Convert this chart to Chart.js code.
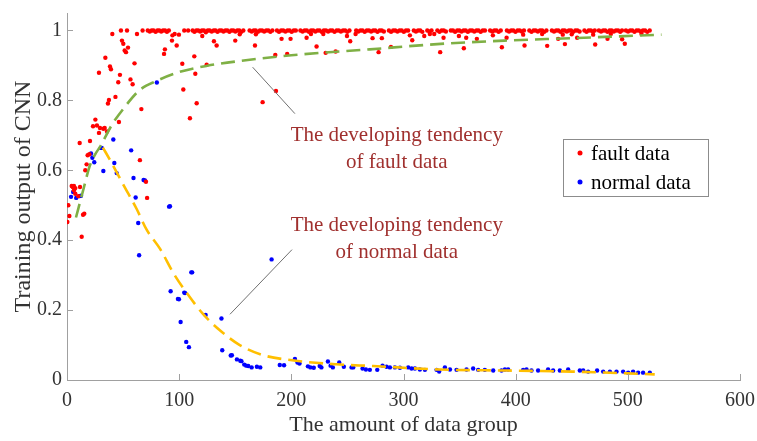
<!DOCTYPE html>
<html>
<head>
<meta charset="utf-8">
<script src="https://cdn.jsdelivr.net/npm/chart.js@4.4.0/dist/chart.umd.min.js"></script>
<style>
  html, body { margin: 0; padding: 0; background: #fff; }
  #wrap { width: 757px; height: 441px; }
</style>
</head>
<body>
<div id="wrap"><canvas id="chart" width="757" height="441"></canvas></div>
<script>
// x = amount of data group, y = training output of CNN
const faultPoints = [
  [0.3,0.452],[1.2,0.5],[2.1,0.469],[4.2,0.555],[5.1,0.552],[6.2,0.555],[6.2,0.543],[7.4,0.549],[7.4,0.533],
  [10.1,0.526],[11.6,0.552],[11.3,0.678],[13.1,0.41],[14.3,0.473],[15.4,0.476],[16.3,0.6],[17.5,0.617],
  [18.4,0.643],[19.9,0.646],[20.5,0.684],[23.2,0.726],[25.3,0.745],[26.7,0.728],[28.5,0.707],[28.5,0.879],
  [29.4,0.721],[32.4,0.719],[33.6,0.721],[34.2,0.922],[35.7,0.711],[36.5,0.791],[37.4,0.801],[38.3,0.897],
  [39.2,0.889],[40.4,0.99],[43.2,0.81],[45.7,0.852],[46.3,0.738],[47.2,0.873],[48.1,1.0],[49,0.971],
  [50.2,0.962],[51.4,0.943],[52.6,0.938],[53.5,1.0],[54.4,0.951],[56.6,0.86],[58.5,0.846],[60.2,0.906],
  [62.4,0.99],[65,0.629],[66.3,0.775],[67.4,1.0],[70.4,0.567],[71.4,0.521],
  [86.5,0.933],[87.3,0.946],[93.6,0.971],[94,0.986],[96,0.99],[97.8,0.957],[99.8,0.988],[102.8,0.905],
  [103.7,0.831],[109.6,0.749],[113.5,0.926],[114.4,0.876],[115.6,0.792],[120.6,0.984],[124.5,0.902],
  [131,0.969],[133.4,0.957],[150,0.971],[154,0.989],[167.6,0.957],[168.4,0.989],[174.4,0.795],[185.7,0.93],
  [186.3,0.827],[191.3,0.976],[196.3,0.933],[199.3,0.976],[213.6,0.979],[217.5,0.99],[222.5,0.954],
  [228.5,0.99],[230.6,0.936],[239.5,0.94],[249.6,0.984],[252.5,0.969],[257.3,0.99],[272.4,0.978],
  [277.8,0.938],[280.7,0.978],[288.8,0.953],[305.7,0.986],[307.8,0.972],[318.5,0.984],[323.5,0.99],
  [327.4,0.99],[332.7,0.938],[335.7,0.979],[349.4,0.984],[353.8,0.949],[355.9,0.979],[365.4,0.976],
  [379.7,0.986],[387.7,0.952],[391.9,0.979],[406.7,0.988],[407.9,0.957],[423.6,0.99],[428.1,0.956],
  [437.9,0.976],[442,0.988],[443.9,0.961],[450,0.989],[454.8,0.979],[469.1,0.988],[470.9,0.96],
  [481.9,0.976],[484.8,0.99],[494.9,0.975],[497.3,0.962],[512.2,0.99],
  // the dense band at 1
  [72,1],[73.8,0.997],[75.5,1],[77.2,1],[79,0.996],[80.6,1],[82.3,1],[84,0.997],[85.6,1],[87.4,1],[89.1,0.996],[90.8,1],
  [104.5,1],[108,1],
  [112,1],[113.6,0.996],[115.3,1],[117,1],[118.7,0.997],[120.3,1],[122.1,1],[123.8,0.995],[125.5,1],[127.2,1],
  [129,0.997],[130.8,1],[132.5,1],[134.2,0.996],[136,1],[137.8,1],[139.5,0.997],[141.2,1],[143,1],[144.8,0.996],
  [146.5,1],[148.3,1],[150.1,0.997],[151.8,1],[153.6,1],[155.4,0.996],[157.2,1],
  [162.8,1],[164.7,0.997],[166.5,1],[168.3,1],[170.2,0.996],[172,1],[173.9,1],[175.8,0.997],[177.6,1],[179.5,1],
  [181.3,0.996],[183.1,1],
  [187.2,1],[189,0.996],[190.9,1],[192.8,1],[194.7,0.997],[196.6,1],[198.5,1],[200.3,0.996],[202.2,1],[204,1],
  [208.1,1],[210,0.997],[211.9,1],[213.8,1],[215.7,0.996],[217.6,1],[219.5,1],[221.4,0.997],[223.3,1],[225.2,1],
  [227.1,0.996],[229,1],[230.9,1],[232.8,0.997],[234.7,1],[236.6,1],[238.5,0.996],[240.4,1],[242.3,1],
  [244.2,0.997],[246.1,1],[248,1],[249.9,0.996],[251.8,1],
  [257.8,1],[259.7,0.997],[261.6,1],[263.5,1],[265.4,0.996],[267.3,1],[269.2,1],[271.1,0.997],[273,1],[274.9,1],
  [276.8,0.996],[278.7,1],[280.6,1],[282.5,0.997],
  [287,1],[288.9,0.996],[290.8,1],[292.7,1],[294.6,0.997],[296.5,1],[298.4,1],[300.3,0.996],[302.2,1],[304.1,1],
  [309.2,1],[311.1,0.997],[313,1],[314.9,1],[316.8,0.996],
  [321.2,1],[323.1,0.997],[325,1],
  [330.2,1],[332.1,0.996],[334,1],[335.9,1],[337.8,0.997],
  [342.2,1],[344.1,1],[346,0.996],[347.9,1],[349.8,1],[351.7,0.997],[353.6,1],[355.5,1],[357.4,0.996],[359.3,1],
  [361.2,1],[363.1,0.997],[365,1],[366.9,1],[368.8,0.996],[370.7,1],[372.6,1],
  [377.2,1],[379.1,0.997],[381,1],[382.9,1],[384.8,0.996],[386.7,1],
  [392.2,1],[394.1,0.997],[396,1],[397.9,1],[399.8,0.996],[401.7,1],[403.6,1],[405.5,0.997],[407.4,1],
  [412.2,1],[414.1,0.996],[416,1],[417.9,1],[419.8,0.997],[421.7,1],[423.6,1],[425.5,0.996],[427.4,1],
  [432.3,1],[434.2,0.997],[436.1,1],[438,1],[439.9,0.996],[441.8,1],[443.7,1],[445.6,0.997],[447.5,1],[449.4,1],
  [451.3,0.996],[453.2,1],[455.1,1],[457,0.997],
  [461.3,1],[463.2,0.996],[465.1,1],[467,1],[468.9,0.997],[470.5,1],
  [474.2,1],[476.1,0.997],[478,1],[479.9,1],[481.8,0.996],[483.7,1],[485.6,1],[487.5,0.997],[489.4,1],[491.3,1],
  [493.2,0.996],[494.8,1],
  [498.3,1],[500.2,0.997],[502.1,1],[504,1],[505.9,0.996],[507.8,1],[509.7,1],[511.6,0.997],[513.5,1],[515.4,1],
  [517.3,0.996],[519.5,1]
]

const normalPoints = [
  [3.6,0.524],[5.5,0.538],[8.2,0.521],[10.9,0.526],[12.5,0.527],[21.4,0.648],[22.6,0.636],[24.3,0.623],
  [30.2,0.664],[31,0.664],[32.4,0.598],[41.3,0.688],[42.2,0.621],[44.3,0.592],[57.2,0.657],[59.3,0.578],
  [61.2,0.522],[63.5,0.449],[64.3,0.357],[68.3,0.572],[69.5,0.571],[80.1,0.851],[91,0.496],[91.8,0.497],
  [92.4,0.254],[98.9,0.232],[99.8,0.231],[101.3,0.166],[104.5,0.25],[105.2,0.249],[106.3,0.109],[108.7,0.094],
  [110.8,0.308],[111.6,0.308],[123.6,0.186],[137.7,0.176],[138.4,0.085],[146,0.07],[147,0.071],[151.5,0.059],
  [154.5,0.055],[155.5,0.054],[158,0.044],[159.8,0.041],[161.6,0.04],[164.6,0.036],[169.3,0.038],[172.3,0.036],
  [182.4,0.345],[189.7,0.043],[193.5,0.042],[203.2,0.06],[205.5,0.05],[207.3,0.047],[214.8,0.039],[217,0.036],
  [220,0.035],[225.3,0.04],[226.8,0.036],[232.6,0.053],[235,0.041],[237,0.036],[242.7,0.05],[246.8,0.038],
  [253.7,0.036],[255.2,0.036],[263.5,0.033],[266.5,0.03],[270,0.029],[276.6,0.029],[281.3,0.041],[284.9,0.038],
  [287.9,0.036],[292.3,0.036],[296.8,0.035],[304.2,0.036],[307.2,0.033],[310.2,0.033],[314.6,0.03],[319.1,0.029],
  [329.5,0.029],[331.8,0.024],[336.9,0.036],[341.4,0.03],[347.3,0.029],[356.2,0.03],[362.1,0.033],[366.6,0.029],
  [372.5,0.029],[380,0.027],[387.4,0.027],[390.4,0.03],[393.3,0.03],[406.7,0.029],[409.7,0.03],[414.1,0.027],
  [420,0.027],[428.9,0.03],[433.4,0.027],[439.4,0.027],[446.8,0.03],[457.2,0.027],[460.2,0.027],[464.6,0.024],
  [472.6,0.027],[478,0.024],[484,0.024],[489.9,0.024],[495.8,0.024],[500.3,0.021],[504.7,0.024],[509.2,0.021],
  [513.6,0.021],[519.6,0.021]
]

const faultTrendX = [8, 15, 20, 25, 30, 40, 50, 65, 80, 100, 125, 155, 200, 270, 330, 390, 450, 530]
const faultTrendY = [0.465, 0.55, 0.61, 0.645, 0.67, 0.73, 0.775, 0.83, 0.856, 0.881, 0.899, 0.913, 0.929, 0.946, 0.961, 0.971, 0.978, 0.988]

const normalTrendX = [32, 40, 50, 62, 71, 83, 95, 107, 121, 136, 154, 175, 199, 240, 273, 332, 392, 451, 524]
const normalTrendY = [0.665, 0.62, 0.56, 0.49, 0.43, 0.375, 0.305, 0.248, 0.19, 0.143, 0.1, 0.071, 0.057, 0.045, 0.04, 0.03, 0.027, 0.024, 0.016]

const xTicks = [0, 100, 200, 300, 400, 500, 600]
const yTicks = [0, 0.2, 0.4, 0.6, 0.8, 1]

const seriesNames = ['fault data', 'normal data']

const toXY = arr => arr.map(p => ({ x: p[0], y: p[1] }))
const zipXY = (xs, ys) => xs.map((x, i) => ({ x, y: ys[i] }))

const SERIF = '"Liberation Serif", "Times New Roman", serif'
const axisGray = '#a0a0a0'
const labelColor = '#333333'

// annotation pointers in data units
const notes = [
  { lines: ['The developing tendency', 'of fault data'], at: [294, 0.70], from: [165.5, 0.895], to: [203.2, 0.762] },
  { lines: ['The developing tendency', 'of normal data'], at: [294, 0.443], from: [200.6, 0.373], to: [145.3, 0.188] }
]

const innerTicks = {
  id: 'innerTicks',
  afterDraw(chart) {
    const { ctx, scales: { x, y } } = chart
    ctx.save()
    ctx.strokeStyle = axisGray
    ctx.lineWidth = 1
    ctx.beginPath()
    xTicks.forEach(v => {
      const px = Math.round(x.getPixelForValue(v)) + 0.5
      ctx.moveTo(px, y.bottom)
      ctx.lineTo(px, y.bottom - 6)
    })
    yTicks.forEach(v => {
      const py = Math.round(y.getPixelForValue(v)) + 0.5
      ctx.moveTo(x.left, py)
      ctx.lineTo(x.left + 6, py)
    })
    ctx.stroke()
    ctx.restore()
  }
}

const notesPlugin = {
  id: 'notes',
  afterDatasetsDraw(chart) {
    const { ctx, scales: { x, y } } = chart
    ctx.save()
    notes.forEach(n => {
      ctx.strokeStyle = '#707070'
      ctx.lineWidth = 1
      ctx.beginPath()
      ctx.moveTo(x.getPixelForValue(n.from[0]), y.getPixelForValue(n.from[1]))
      ctx.lineTo(x.getPixelForValue(n.to[0]), y.getPixelForValue(n.to[1]))
      ctx.stroke()
      ctx.fillStyle = '#a0302e'
      ctx.font = '21px ' + SERIF
      ctx.textAlign = 'center'
      ctx.textBaseline = 'middle'
      const cx = x.getPixelForValue(n.at[0])
      const cy = y.getPixelForValue(n.at[1])
      n.lines.forEach((t, i) => ctx.fillText(t, cx, cy + i * 27))
    })
    ctx.restore()
  }
}

const boxLegend = {
  id: 'boxLegend',
  afterDraw(chart) {
    const { ctx } = chart
    const bx = 563, by = 139, bw = 145, bh = 57
    ctx.save()
    ctx.fillStyle = '#ffffff'
    ctx.fillRect(bx, by, bw, bh)
    ctx.strokeStyle = '#8c8c8c'
    ctx.lineWidth = 1
    ctx.strokeRect(bx + 0.5, by + 0.5, bw, bh)
    ctx.font = '21px ' + SERIF
    ctx.textBaseline = 'middle'
    ctx.textAlign = 'left'
    chart.data.datasets.filter(d => d.inLegend).forEach((d, i) => {
      const cy = by + 14 + i * 29
      ctx.fillStyle = d.backgroundColor
      ctx.beginPath()
      ctx.arc(bx + 17, cy, 2.5, 0, Math.PI * 2)
      ctx.fill()
      ctx.fillStyle = '#000000'
      ctx.fillText(d.label, bx + 28, cy + 1)
    })
    ctx.restore()
  }
}

const canvas = document.getElementById('chart')
new Chart(canvas.getContext('2d'), {
  type: 'scatter',
  data: {
    datasets: [
      {
        label: seriesNames[0], inLegend: true, data: toXY(faultPoints),
        backgroundColor: '#ff0000', borderWidth: 0, pointRadius: 2.2, order: 2
      },
      {
        label: seriesNames[1], inLegend: true, data: toXY(normalPoints),
        backgroundColor: '#0000ff', borderWidth: 0, pointRadius: 2.2, order: 2
      },
      {
        label: 'fault trend', data: zipXY(faultTrendX, faultTrendY), showLine: true,
        borderColor: '#7fb045', borderWidth: 2.6, borderDash: [14, 7], pointRadius: 0,
        cubicInterpolationMode: 'monotone', order: 1
      },
      {
        label: 'normal trend', data: zipXY(normalTrendX, normalTrendY), showLine: true,
        borderColor: '#ffbf00', borderWidth: 2.6, borderDash: [14, 7], pointRadius: 0,
        cubicInterpolationMode: 'monotone', order: 1
      }
    ]
  },
  options: {
    responsive: false,
    animation: false,
    devicePixelRatio: 1,
    layout: { padding: { left: 2, top: 13, right: 17, bottom: 0 } },
    plugins: { legend: { display: false }, tooltip: { enabled: false } },
    scales: {
      x: {
        type: 'linear', min: 0, max: 600,
        afterBuildTicks: s => { s.ticks = xTicks.map(v => ({ value: v })) },
        afterFit: s => { s.height = 61; s.paddingLeft = 0; s.paddingRight = 0 },
        grid: { display: false, drawTicks: false },
        border: { display: true, color: axisGray, width: 1 },
        ticks: { color: labelColor, font: { family: SERIF, size: 20 }, padding: 9, maxRotation: 0 },
        title: {
          display: true, text: 'The amount of data group', color: labelColor,
          font: { family: SERIF, size: 22 }, padding: { top: 0, bottom: 3 }
        }
      },
      y: {
        type: 'linear', min: 0, max: 1.05,
        afterBuildTicks: s => { s.ticks = yTicks.map(v => ({ value: v })) },
        afterFit: s => { s.width = 65; s.paddingTop = 0; s.paddingBottom = 0 },
        grid: { display: false, drawTicks: false },
        border: { display: true, color: axisGray, width: 1 },
        ticks: { color: labelColor, font: { family: SERIF, size: 20 }, padding: 5, callback: v => String(v) },
        title: {
          display: true, text: 'Training output of CNN', color: labelColor,
          font: { family: SERIF, size: 24 }, padding: { top: 7, bottom: 0 }
        }
      }
    }
  },
  plugins: [innerTicks, notesPlugin, boxLegend]
})
</script>
</body>
</html>
